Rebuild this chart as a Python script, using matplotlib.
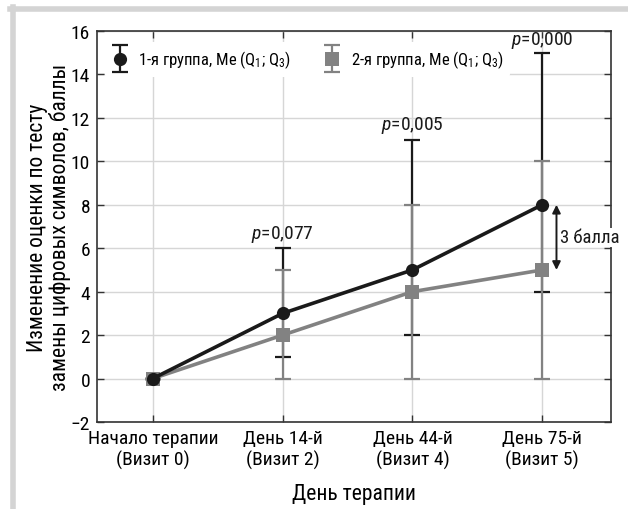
import matplotlib
matplotlib.use("Agg")
import matplotlib.pyplot as plt
from matplotlib.lines import Line2D
from matplotlib.collections import LineCollection
from matplotlib.legend_handler import HandlerErrorbar
from matplotlib.container import ErrorbarContainer
from matplotlib import font_manager

installed = {f.name for f in font_manager.fontManager.ttflist}
FAMS = [n for n in ['Roboto Condensed', 'Liberation Sans Narrow', 'Roboto']
        if n in installed] + ['DejaVu Sans']
plt.rcParams['font.family'] = FAMS
plt.rcParams['mathtext.fontset'] = 'custom'
plt.rcParams['mathtext.rm'] = FAMS[0]
plt.rcParams['mathtext.it'] = FAMS[0] + ':italic'

# ── data ────────────────────────────────────────────────────────────
visits = ["Начало терапии\n(Визит 0)", "День 14-й\n(Визит 2)",
          "День 44-й\n(Визит 4)", "День 75-й\n(Визит 5)"]
g1_me = [0, 3, 5, 8]
g1_q1 = [0, 1, 2, 4]
g1_q3 = [0, 6, 11, 15]
g2_me = [0, 2, 4, 5]
g2_q1 = [0, 0, 0, 0]
g2_q3 = [0, 5, 8, 10]
p_labels = ["0,077", "0,005", "0,000"]
p_idx = [1, 2, 3]
p_y = [6.7, 11.7, 15.6]

BLACK = "#1a1a1a"
GRAY = "#828282"

x = list(range(len(visits)))

fig = plt.figure(figsize=(6.28, 5.10), dpi=100)
ax = fig.add_axes([97 / 628, 1 - 423 / 510, 514 / 628, 391 / 510])

# light frame around the figure (top + left)
fig.add_artist(Line2D([10 / 628, 1], [1 - 10 / 510, 1 - 10 / 510],
                      transform=fig.transFigure, color="#d4d4d4", lw=4))
fig.add_artist(Line2D([13 / 628, 13 / 628], [0, 1 - 8 / 510],
                      transform=fig.transFigure, color="#d4d4d4", lw=4))

# error bars (gray drawn over black)
err1 = [[m - lo for m, lo in zip(g1_me, g1_q1)], [hi - m for m, hi in zip(g1_me, g1_q3)]]
err2 = [[m - lo for m, lo in zip(g2_me, g2_q1)], [hi - m for m, hi in zip(g2_me, g2_q3)]]
ax.errorbar(x, g1_me, yerr=err1, fmt="none", ecolor=BLACK, elinewidth=1.6,
            capsize=6, capthick=1.6, zorder=3)
ax.errorbar(x, g2_me, yerr=err2, fmt="none", ecolor=GRAY, elinewidth=1.6,
            capsize=6, capthick=1.6, zorder=4)

# median lines
ax.plot(x, g2_me, color=GRAY, lw=2.6, marker="s", markersize=9.5,
        markeredgewidth=0, zorder=5)
ax.plot(x, g1_me, color=BLACK, lw=2.6, marker="o", markersize=9.5,
        markeredgewidth=0, zorder=6)


# legend handles: marker + whisker with caps
def whisker_handle(color, marker):
    mk = Line2D([], [], color=color, marker=marker, markersize=9.5,
                markeredgewidth=0, linestyle="none")
    caps = [Line2D([], [], color=color, marker="_", markersize=12,
                   markeredgewidth=1.6, linestyle="none") for _ in range(2)]
    lc = LineCollection([], colors=color, linewidths=1.6)
    return ErrorbarContainer((mk, tuple(caps), (lc,)), has_xerr=False, has_yerr=True)


h1 = whisker_handle(BLACK, "o")
h2 = whisker_handle(GRAY, "s")
leg = ax.legend([h1, h2],
                ["1-я группа, Me (Q$_1$; Q$_3$)", "2-я группа, Me (Q$_1$; Q$_3$)"],
                handler_map={ErrorbarContainer: HandlerErrorbar(yerr_size=0.8)},
                loc="upper left", ncol=2, frameon=True, fontsize=12,
                bbox_to_anchor=(0.005, 0.985), handlelength=1.0, handletextpad=0.6,
                columnspacing=2.0, borderaxespad=0.3)
leg.get_frame().set_edgecolor("none")
leg.get_frame().set_facecolor("white")
leg.get_frame().set_alpha(1)
leg.set_zorder(10)

# p-values
for i, lab, yy in zip(p_idx, p_labels, p_y):
    ax.text(x[i], yy, "$p$=" + lab, ha="center", va="center", fontsize=14,
            color=BLACK, zorder=11)

# difference arrow at last visit
ax.annotate("", xy=(3.11, g2_me[3]), xytext=(3.11, g1_me[3]),
            arrowprops=dict(arrowstyle="<|-|>", color=BLACK, lw=1.4,
                            mutation_scale=12, shrinkA=0, shrinkB=0), zorder=7)
ax.text(3.135, (g1_me[3] + g2_me[3]) / 2, "3 балла", ha="left", va="center",
        fontsize=13.5, color=BLACK, zorder=7,
        bbox=dict(facecolor="white", edgecolor="none", pad=0.5))

ax.set_xlim(-0.43, 3.53)
ax.set_ylim(-2, 16)
ax.set_yticks(range(-2, 17, 2))
ax.set_yticklabels(["\u22122"] + [str(v) for v in range(0, 17, 2)])
ax.set_xticks(x)
ax.set_xticklabels(visits)
ax.grid(True, color="#d6d6d6", lw=1.0, zorder=0)
ax.set_axisbelow(True)
ax.tick_params(direction="in", length=5, width=1, color="#333333",
               top=True, right=True, labelsize=14, pad=5)
for s in ax.spines.values():
    s.set_color("#333333")
    s.set_linewidth(1.2)

ax.set_xlabel("День терапии", fontsize=15.5, labelpad=10)
ax.set_ylabel("Изменение оценки по тесту\nзамены цифровых символов, баллы",
              fontsize=15.5, linespacing=1.05)
ax.yaxis.set_label_coords(-0.05, 0.5)

fig.savefig("out.png", dpi=100)
